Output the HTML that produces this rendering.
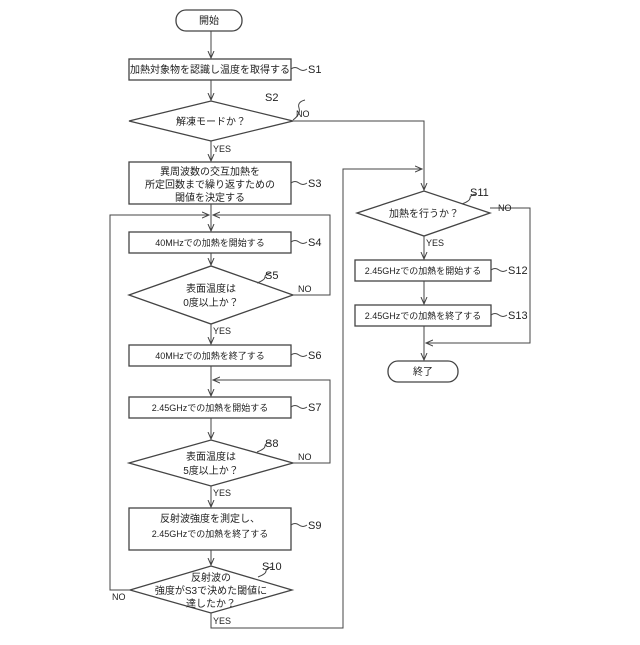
<!DOCTYPE html>
<html><head><meta charset="utf-8"><style>
body{margin:0;background:#fff}
svg text{font-family:"Liberation Sans","Noto Sans CJK JP",sans-serif;fill:#222}
</style></head><body>
<svg width="640" height="640" viewBox="0 0 640 640" xmlns="http://www.w3.org/2000/svg">
<defs><marker id="a" markerWidth="8" markerHeight="8" refX="7" refY="4" orient="auto" markerUnits="userSpaceOnUse"><path d="M0,1 L7,4 L0,7" fill="none" stroke="#444" stroke-width="1"/></marker></defs>
<g stroke="#444" stroke-width="1.3" fill="#fff">
<rect x="176" y="10" width="66" height="21" rx="10"/>
<rect x="129" y="59" width="162" height="21"/>
<polygon points="129,121 211,101 293,121 211,141"/>
<rect x="129" y="162" width="162" height="42"/>
<rect x="129" y="232" width="162" height="21"/>
<polygon points="129,295 211,266 293,295 211,324"/>
<rect x="129" y="345" width="162" height="21"/>
<rect x="129" y="397" width="162" height="21"/>
<polygon points="129,463 211,440 293,463 211,486"/>
<rect x="129" y="508" width="162" height="42"/>
<polygon points="130,590 211,566 292,590 211,613"/>
<polygon points="357,213 424,191 490,213 424,236"/>
<rect x="355" y="260" width="136" height="21"/>
<rect x="355" y="305" width="136" height="21"/>
<rect x="388" y="361" width="70" height="21" rx="10"/>
</g>
<g stroke="#444" stroke-width="1" fill="none" marker-end="url(#a)">
<line x1="211" y1="31" x2="211" y2="58"/>
<line x1="211" y1="80" x2="211" y2="100"/>
<line x1="211" y1="141" x2="211" y2="161"/>
<line x1="211" y1="204" x2="211" y2="231"/>
<line x1="211" y1="253" x2="211" y2="265"/>
<line x1="211" y1="324" x2="211" y2="344"/>
<line x1="211" y1="366" x2="211" y2="396"/>
<line x1="211" y1="418" x2="211" y2="439"/>
<line x1="211" y1="486" x2="211" y2="507"/>
<line x1="211" y1="550" x2="211" y2="565"/>
<polyline points="293,121 424,121 424,190"/>
<polyline points="293,295 330,295 330,215 213,215"/>
<polyline points="130,590 110,590 110,215 209,215"/>
<polyline points="293,463 330,463 330,380 213,380"/>
<polyline points="211,613 211,628 343,628 343,169 422,169"/>
<line x1="424" y1="236" x2="424" y2="259"/>
<line x1="424" y1="281" x2="424" y2="304"/>
<line x1="424" y1="326" x2="424" y2="360"/>
<polyline points="490,208 530,208 530,343 426,343"/>
</g>
<g stroke="#444" stroke-width="1" fill="none">
<path d="M291,69 q4,-3 8,0 t8,0"/>
<path d="M293,120 q8,-6 6,-12 t6,-8"/>
<path d="M291,183 q4,-3 8,0 t8,0"/>
<path d="M291,242 q4,-3 8,0 t8,0"/>
<path d="M257,283 q8,-3 8,-6 t6,-4"/>
<path d="M291,355 q4,-3 8,0 t8,0"/>
<path d="M291,407 q4,-3 8,0 t8,0"/>
<path d="M257,452 q8,-3 8,-6 t6,-4"/>
<path d="M291,525 q4,-3 8,0 t8,0"/>
<path d="M258,577 q8,-3 8,-6 t6,-4"/>
<path d="M462,204 q8,-3 8,-6 t6,-4"/>
<path d="M491,270 q4,-3 8,0 t8,0"/>
<path d="M491,315 q4,-3 8,0 t8,0"/>
</g>
<g font-size="10" text-anchor="middle">
<text x="209" y="24">開始</text>
<text x="210" y="73">加熱対象物を認識し温度を取得する</text>
<text x="211" y="125">解凍モードか？</text>
<text x="210" y="175">異周波数の交互加熱を</text>
<text x="210" y="188">所定回数まで繰り返すための</text>
<text x="210" y="201">閾値を決定する</text>
<text x="210" y="246" font-size="9">40MHzでの加熱を開始する</text>
<text x="211" y="292">表面温度は</text>
<text x="211" y="306">0度以上か？</text>
<text x="210" y="359" font-size="9">40MHzでの加熱を終了する</text>
<text x="210" y="411" font-size="9">2.45GHzでの加熱を開始する</text>
<text x="211" y="460">表面温度は</text>
<text x="211" y="474">5度以上か？</text>
<text x="210" y="522">反射波強度を測定し、</text>
<text x="210" y="537" font-size="9">2.45GHzでの加熱を終了する</text>
<text x="211" y="581">反射波の</text>
<text x="211" y="594">強度がS3で決めた閾値に</text>
<text x="211" y="607">達したか？</text>
<text x="424" y="217">加熱を行うか？</text>
<text x="423" y="274" font-size="9">2.45GHzでの加熱を開始する</text>
<text x="423" y="319" font-size="9">2.45GHzでの加熱を終了する</text>
<text x="423" y="375">終了</text>
</g>
<g font-size="11">
<text x="308" y="73">S1</text><text x="265" y="101">S2</text><text x="308" y="187">S3</text>
<text x="308" y="246">S4</text><text x="265" y="279">S5</text><text x="308" y="359">S6</text>
<text x="308" y="411">S7</text><text x="265" y="447">S8</text><text x="308" y="529">S9</text>
<text x="262" y="570">S10</text><text x="470" y="196">S11</text><text x="508" y="274">S12</text><text x="508" y="319">S13</text>
</g>
<g font-size="9">
<text x="296" y="117">NO</text><text x="213" y="152">YES</text>
<text x="298" y="292">NO</text><text x="213" y="334">YES</text>
<text x="298" y="460">NO</text><text x="213" y="496">YES</text>
<text x="112" y="600">NO</text><text x="213" y="624">YES</text>
<text x="498" y="211">NO</text><text x="426" y="246">YES</text>
</g>
</svg>
</body></html>
